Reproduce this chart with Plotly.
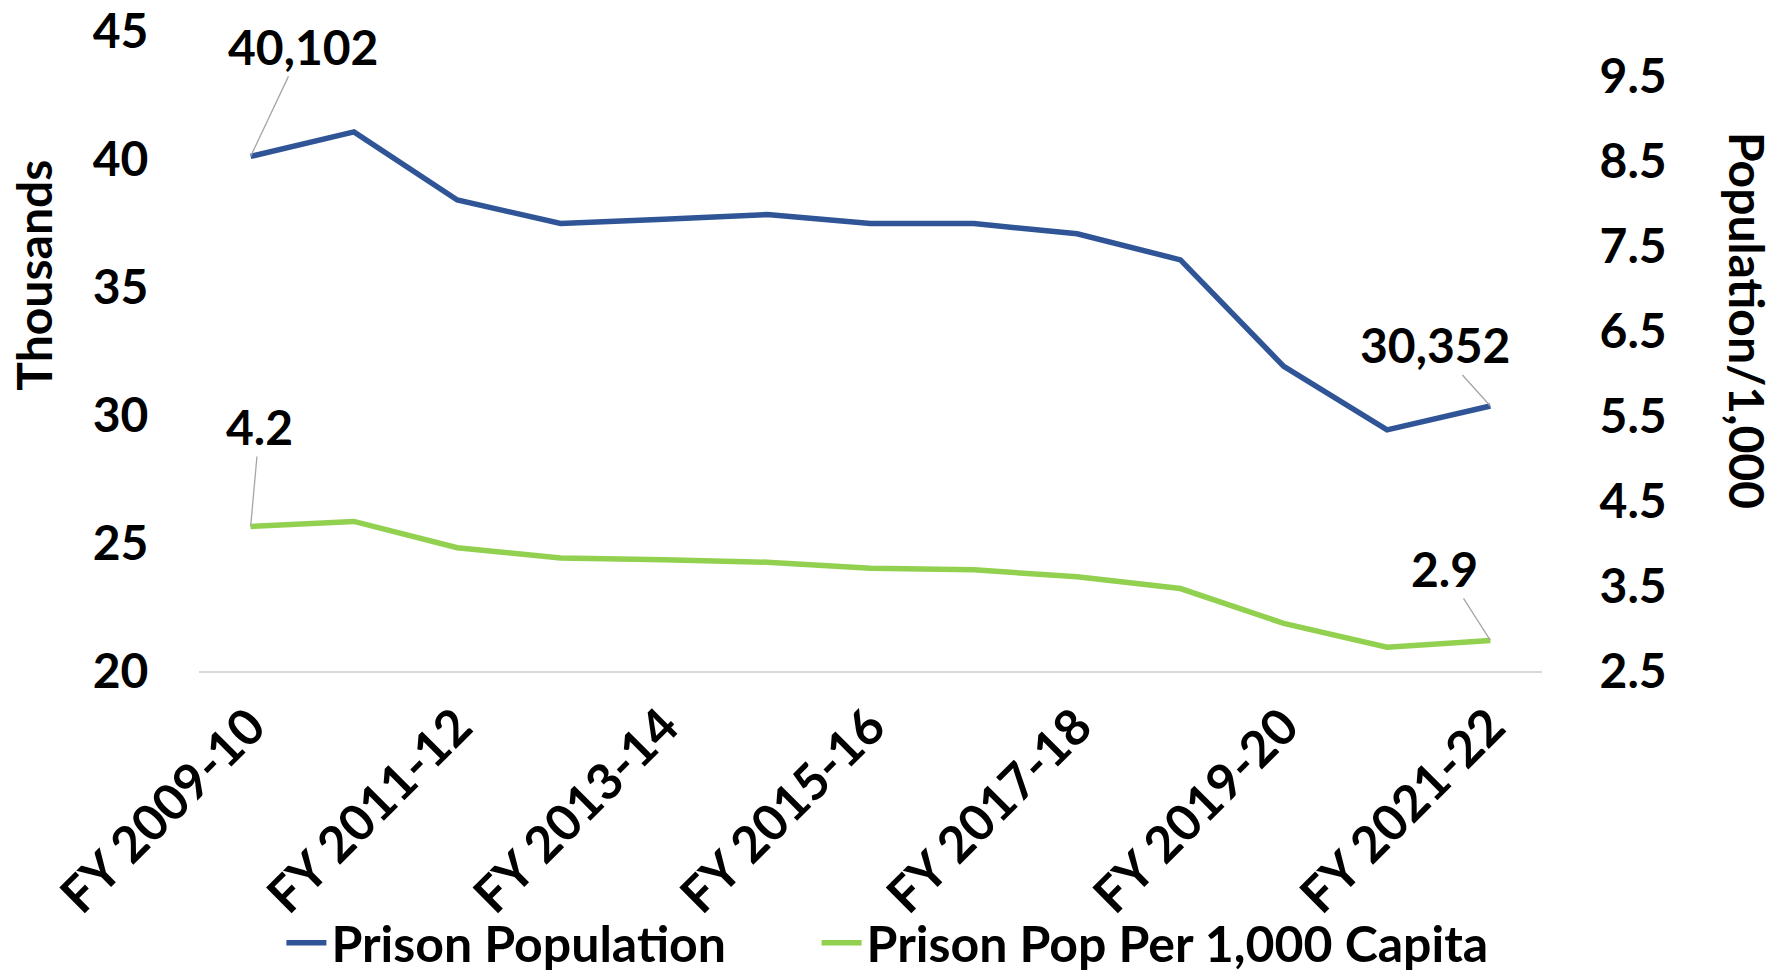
import plotly.graph_objects as go

categories = ["FY 2009-10", "FY 2010-11", "FY 2011-12", "FY 2012-13", "FY 2013-14",
              "FY 2014-15", "FY 2015-16", "FY 2016-17", "FY 2017-18", "FY 2018-19",
              "FY 2019-20", "FY 2020-21", "FY 2021-22"]
prison_population_thousands = [40.102, 41.06, 38.40, 37.48, 37.65, 37.83, 37.48,
                               37.48, 37.08, 36.06, 31.90, 29.42, 30.352]
prison_pop_per_1000 = [4.2, 4.26, 3.95, 3.83, 3.81, 3.78, 3.71, 3.69, 3.61,
                       3.47, 3.06, 2.78, 2.86]
left_ticks = [20, 25, 30, 35, 40, 45]
right_ticks = [2.5, 3.5, 4.5, 5.5, 6.5, 7.5, 8.5, 9.5]

FONT = "Lato, Carlito, sans-serif"
FS = 48
FS_X = 50
FS_LEG = 50
BLUE = "#2F5597"
GREEN = "#92D050"

fig = go.Figure()
fig.add_trace(go.Scatter(x=categories, y=prison_population_thousands, mode="lines",
                         name="<b>Prison Population</b>", line=dict(color=BLUE, width=5.5),
                         yaxis="y", legend="legend"))
fig.add_trace(go.Scatter(x=categories, y=prison_pop_per_1000, mode="lines",
                         name="<b>Prison Pop Per 1,000 Capita</b>", line=dict(color=GREEN, width=5.5),
                         yaxis="y2", legend="legend2"))

ann = []
def label(xi, yv, text, ax, ay, yref):
    ann.append(dict(x=categories[xi], y=yv, xref="x", yref=yref, text="<b>%s</b>" % text,
                    showarrow=True, arrowhead=0, arrowwidth=1.3, arrowcolor="#A6A6A6",
                    ax=ax, ay=ay, font=dict(family=FONT, size=FS, color="black")))

label(0, prison_population_thousands[0], f"{prison_population_thousands[0]*1000:,.0f}", 52, -110, "y")
label(12, prison_population_thousands[12], f"{prison_population_thousands[12]*1000:,.0f}", -55, -61, "y")
label(0, prison_pop_per_1000[0], f"{prison_pop_per_1000[0]:.1f}", 9, -100, "y2")
label(12, prison_pop_per_1000[12], f"{prison_pop_per_1000[12]:.1f}", -46, -72, "y2")

ann.append(dict(text="<b>Thousands</b>", textangle=-90, xref="paper", yref="paper",
                x=-0.123, y=0.619, xanchor="center", yanchor="middle", showarrow=False,
                font=dict(family=FONT, size=FS, color="black")))
ann.append(dict(text="<b>Population/1,000</b>", textangle=90, xref="paper", yref="paper",
                x=1.1526, y=0.547, xanchor="center", yanchor="middle", showarrow=False,
                font=dict(family=FONT, size=FS, color="black")))

leg_common = dict(orientation="h", xanchor="left", xref="container",
                  y=0.036, yanchor="middle", yref="container", bgcolor="rgba(0,0,0,0)",
                  font=dict(family=FONT, size=FS_LEG, color="black"), itemwidth=40)

fig.update_layout(
    width=1781, height=978,
    margin=dict(l=199, r=239, t=31, b=307, autoexpand=False),
    plot_bgcolor="white", paper_bgcolor="white",
    font=dict(family=FONT, size=FS, color="black"),
    showlegend=True,
    legend=dict(x=0.158, **leg_common),
    legend2=dict(x=0.4585, **leg_common),
    xaxis=dict(type="category", range=[-0.5, 12.5], tickmode="array",
               tickvals=categories[::2], ticktext=["<b>%s</b>" % c for c in categories[::2]],
               tickangle=-45, showgrid=False, showline=True, linecolor="#D9D9D9", linewidth=2,
               ticks="outside", ticklen=4, tickcolor="rgba(0,0,0,0)", automargin=False,
               ticklabeloverflow="allow",
               tickfont=dict(family=FONT, size=FS_X, color="black"), zeroline=False),
    yaxis=dict(range=[20, 45], tickmode="array", tickvals=left_ticks,
               ticktext=["<b>%d</b>" % v for v in left_ticks],
               showgrid=False, zeroline=False, showline=False, automargin=False,
               ticklabeloverflow="allow",
               ticks="outside", ticklen=40, tickcolor="rgba(0,0,0,0)",
               tickfont=dict(family=FONT, size=FS, color="black")),
    yaxis2=dict(range=[2.5, 10.03], overlaying="y", side="right", tickmode="array",
                tickvals=right_ticks, ticktext=["<b>%.1f</b>" % v for v in right_ticks],
                showgrid=False, zeroline=False, showline=False, automargin=False,
                ticklabeloverflow="allow",
                ticks="outside", ticklen=47, tickcolor="rgba(0,0,0,0)",
                tickfont=dict(family=FONT, size=FS, color="black")),
    annotations=ann,
)

fig.write_html("out.html", config={"displayModeBar": False},
               post_script="document.body.style.margin='0px';")
